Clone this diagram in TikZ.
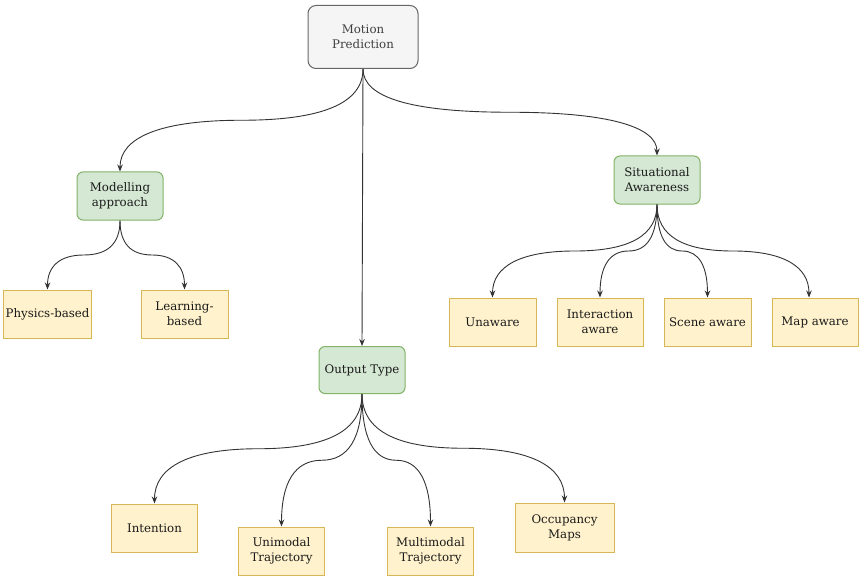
\documentclass[tikz,border=0pt]{standalone}
\usepackage{fontspec}
\setmainfont{DejaVu Serif}
\usetikzlibrary{calc,arrows.meta}
\definecolor{grayfill}{HTML}{F5F5F5}
\definecolor{graydraw}{HTML}{666666}
\definecolor{greenfill}{HTML}{D5E8D4}
\definecolor{greendraw}{HTML}{82B366}
\definecolor{yelfill}{HTML}{FFF2CC}
\definecolor{yeldraw}{HTML}{D6B656}
\definecolor{txt}{HTML}{1A1A1A}
\definecolor{edgecol}{HTML}{333333}
\newcommand\treeedge[2]{%
  \draw[connector] let \p1=(#1), \p2=(#2) in
    (\p1) .. controls (\x1,{\y1+(\y2-\y1)/3}) and ({(5*\x1+\x2)/6},{(\y1+\y2)/2}) ..
    ({(\x1+\x2)/2},{(\y1+\y2)/2}) .. controls ({(\x1+5*\x2)/6},{(\y1+\y2)/2}) and (\x2,{\y2+(\y1-\y2)/3}) .. (\p2);}
\begin{document}
\begin{tikzpicture}[x=1pt,y=-1pt,
  box/.style={draw, line width=1pt, minimum width=86pt, minimum height=48pt, align=center,
    inner sep=2pt, text=txt, font=\fontsize{11.8}{14.8}\selectfont},
  grayboxstyle/.style={box, fill=grayfill, draw=graydraw, rounded corners=8pt, text=black!75},
  greenbox/.style={box, fill=greenfill, draw=greendraw, rounded corners=6pt},
  leafbox/.style={box, fill=yelfill, draw=yeldraw},
  connector/.style={draw=edgecol, line width=0.9pt, -{Stealth[length=7pt,width=5.5pt]}}]
\useasboundingbox (0,0) rectangle (865,583);
\fill[white] (0,0) rectangle (865,583);

\node[grayboxstyle, minimum width=110pt, minimum height=63pt] (mp) at (363,37) {Motion\\Prediction};
\node[greenbox] (ma) at (120,196) {Modelling\\approach};
\node[greenbox] (sa) at (657,180) {Situational\\Awareness};
\node[greenbox, minimum height=47pt] (ot) at (362,370) {Output Type};

\node[leafbox, minimum width=87pt] (pb) at (47.5,314) {Physics-based};
\node[leafbox, minimum width=87pt] (lb) at (184.5,314) {Learning-\\based};

\node[leafbox, minimum width=87pt] (un) at (492.5,322) {Unaware};
\node[leafbox] (ia) at (600,322) {Interaction\\aware};
\node[leafbox, minimum width=87pt] (sc) at (707.5,322) {Scene aware};
\node[leafbox] (mapn) at (815,322) {Map aware};

\node[leafbox] (inn) at (154.5,528) {Intention};
\node[leafbox] (uni) at (281.5,551) {Unimodal\\Trajectory};
\node[leafbox] (mul) at (430.5,551) {Multimodal\\Trajectory};
\node[leafbox, minimum width=99pt, minimum height=49pt] (occ) at (564.5,527.5) {Occupancy\\Maps};

\treeedge{mp.south}{ma.north}
\treeedge{mp.south}{sa.north}
\draw[connector] (mp.south) -- (ot.north);

\treeedge{ma.south}{pb.north}
\treeedge{ma.south}{lb.north}

\treeedge{sa.south}{un.north}
\treeedge{sa.south}{ia.north}
\treeedge{sa.south}{sc.north}
\treeedge{sa.south}{[xshift=-6pt]mapn.north}

\treeedge{ot.south}{inn.north}
\treeedge{ot.south}{uni.north}
\treeedge{ot.south}{mul.north}
\treeedge{ot.south}{occ.north}
\end{tikzpicture}
\end{document}
